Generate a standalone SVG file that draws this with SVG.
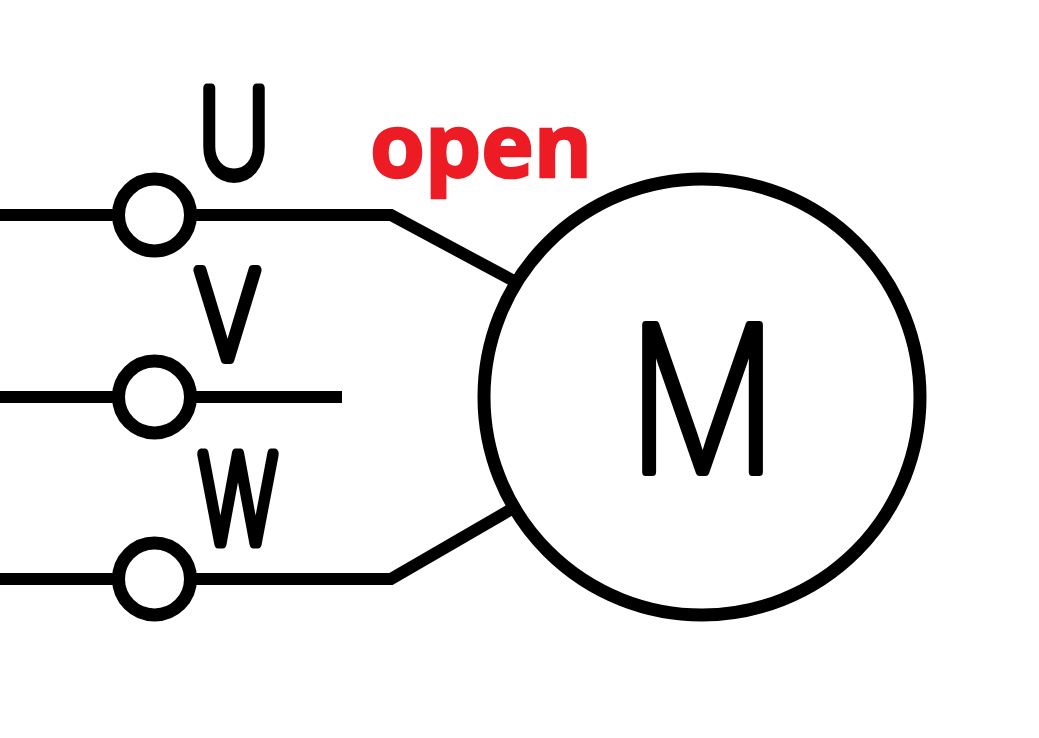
<svg xmlns="http://www.w3.org/2000/svg" width="1039" height="738" viewBox="0 0 1039 738">
<style>
.w{fill:none;stroke:#000;stroke-width:12}
.t{fill:#fff;stroke:#000;stroke-width:13}
.l{font-family:"Inter","Liberation Sans",sans-serif;font-weight:200;fill:#000;stroke:#000;stroke-linejoin:round;stroke-linecap:round;text-anchor:middle}
</style>
<rect width="1039" height="738" fill="#fff"/>
<g id="connectors">
<path class="w" d="M0 215H391L512 280"/>
<path class="w" d="M0 397H342"/>
<path class="w" d="M0 579H391L510 510"/>
</g>
<g id="terminal-u"><circle class="t" cx="154.500" cy="215" r="36"/><text class="l" x="234" y="177" font-size="122" stroke-width="9" textLength="73" lengthAdjust="spacingAndGlyphs">U</text></g>
<g id="terminal-v"><circle class="t" cx="154.500" cy="397" r="36"/><text class="l" x="227.500" y="359" font-size="122" stroke-width="10" textLength="66" lengthAdjust="spacingAndGlyphs">V</text></g>
<g id="terminal-w"><circle class="t" cx="154.500" cy="579" r="36"/><text class="l" x="238" y="543" font-size="122" stroke-width="11" textLength="79" lengthAdjust="spacingAndGlyphs">W</text></g>
<g id="motor"><circle class="t" cx="702" cy="397" r="218"/><text class="l" x="702.500" y="472" font-size="202" stroke-width="8" textLength="149" lengthAdjust="spacingAndGlyphs">M</text></g>
<text id="label-open" x="481" y="177" font-family="'Open Sans','Liberation Sans',sans-serif" font-weight="700" font-size="88" fill="#ed1c24" stroke="#ed1c24" stroke-width="2.500" text-anchor="middle" textLength="222" lengthAdjust="spacingAndGlyphs">open</text>
</svg>
